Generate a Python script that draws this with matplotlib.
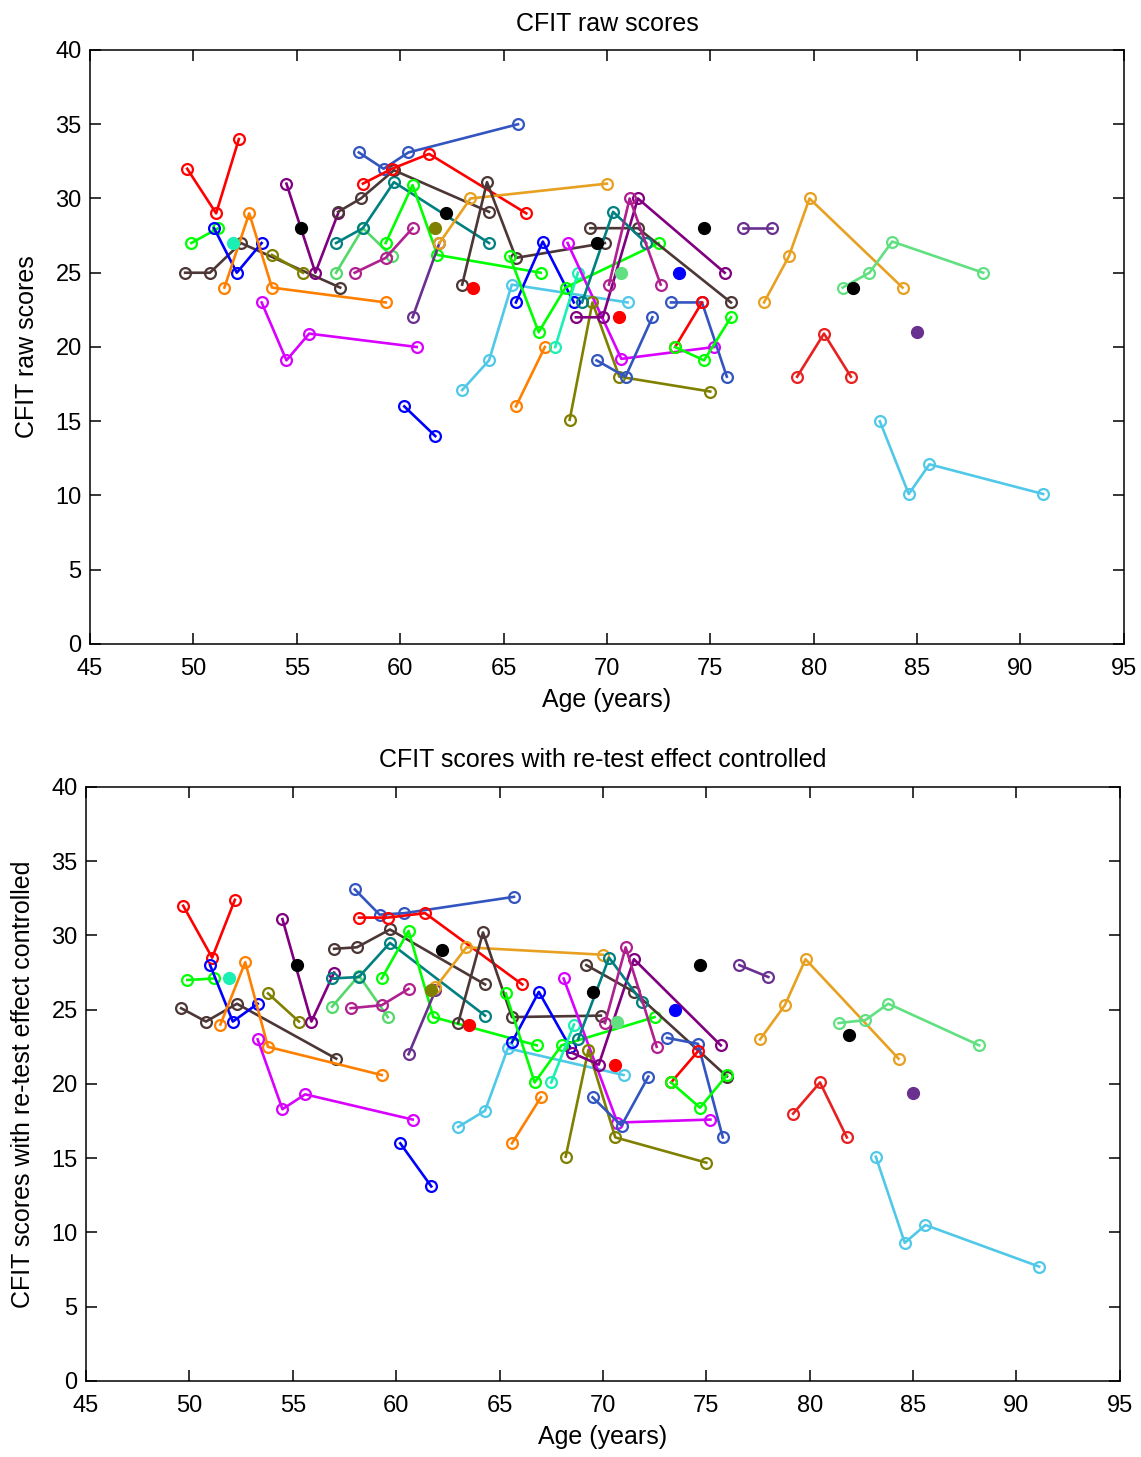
import matplotlib
matplotlib.use("Agg")
import matplotlib.pyplot as plt

plt.rcParams['font.family'] = ['Liberation Sans', 'DejaVu Sans']

# one entry per subject: ages at each visit, raw score, score with re-test effect controlled
ages = [
    [49.7, 51.1, 52.2], [49.9, 51.2], [49.6, 50.8, 52.3, 57.1], [51.0, 52.1, 53.3],
    [51.9], [51.5, 52.7, 53.8, 59.3], [53.8, 55.3], [54.5, 55.9, 57.0], [55.2],
    [53.3, 54.5, 55.6, 60.8], [60.2, 61.7], [56.9, 58.2, 59.6], [56.9, 58.2, 59.7, 64.3],
    [57.8, 59.3, 60.6], [57.0, 58.1, 59.7, 64.3], [59.3, 60.6, 61.8, 66.8],
    [58.0, 59.2, 60.4, 65.7], [58.2, 59.6, 61.4, 66.1], [60.6, 61.9], [61.7],
    [61.9, 63.4, 70.0], [62.2], [63.5], [63.0, 64.2, 65.6, 69.9], [63.0, 64.3, 65.4, 71.0],
    [65.6, 66.9, 68.4], [65.6, 67.0], [65.3, 66.7, 68.0, 72.5], [67.5, 68.6],
    [68.1, 70.7, 75.2], [68.2, 69.3, 70.6, 75.0], [68.5, 69.8, 71.5, 75.7],
    [69.2, 71.5, 76.0], [69.5], [68.8, 70.3, 71.9], [70.1, 71.1, 72.6],
    [69.5, 70.9, 72.2], [70.6], [70.7], [73.5], [73.1, 74.6, 75.8], [73.3, 74.6],
    [73.3, 74.7, 76.0], [74.7], [76.6, 78.0], [77.6, 78.8, 79.8, 84.3],
    [81.4, 82.7, 83.8, 88.2], [79.2, 80.5, 81.8], [81.9], [85.0], [83.2, 84.6, 85.6, 91.1],
]
raw = [
    [32, 29, 34], [27, 28], [25, 25, 27, 24], [28, 25, 27],
    [27], [24, 29, 24, 23], [26.2, 25], [31, 25, 29], [28],
    [23, 19.1, 20.9, 20], [16, 14], [25, 28, 26.1], [27, 28, 31.1, 27],
    [25, 26, 28], [29.1, 30, 31.9, 29.1], [27, 30.9, 26.2, 25],
    [33.1, 32, 33.1, 35], [31, 32, 33, 29], [22, 27], [28],
    [27, 30, 31], [29], [24], [24.2, 31.1, 26, 27], [17.1, 19.1, 24.2, 23],
    [23, 27.1, 23], [16, 20], [26.1, 21, 24, 27], [20, 25],
    [27, 19.2, 20], [15.1, 23, 18, 17], [22, 22, 30, 25],
    [28, 28, 23], [27], [23, 29.1, 27], [24.2, 30, 24.2],
    [19.1, 18, 22], [22], [25], [25], [23, 23, 18], [20, 23],
    [20, 19.1, 22], [28], [28, 28], [23, 26.1, 30, 24],
    [24, 25, 27.1, 25], [18, 20.9, 18], [24], [21], [15, 10.1, 12.1, 10.1],
]
adj = [
    [32, 28.5, 32.4], [27, 27.1], [25.1, 24.2, 25.4, 21.7], [28, 24.2, 25.4],
    [27.1], [24, 28.2, 22.5, 20.6], [26.1, 24.2], [31.1, 24.2, 27.5], [28],
    [23, 18.3, 19.3, 17.6], [16, 13.1], [25.2, 27.3, 24.5], [27.1, 27.2, 29.5, 24.6],
    [25.1, 25.3, 26.4], [29.1, 29.2, 30.4, 26.7], [27.1, 30.3, 24.5, 22.6],
    [33.1, 31.4, 31.5, 32.6], [31.2, 31.2, 31.5, 26.7], [22, 26.3], [26.3],
    [26.5, 29.2, 28.7], [29], [24], [24.1, 30.2, 24.5, 24.6], [17.1, 18.2, 22.4, 20.6],
    [22.8, 26.2, 22.5], [16, 19.1], [26.1, 20.1, 22.6, 24.5], [20.1, 24],
    [27.1, 17.4, 17.6], [15.1, 22.3, 16.4, 14.7], [22.1, 21.3, 28.4, 22.6],
    [28, 26.2, 20.5], [26.2], [23, 28.5, 25.5], [24.1, 29.2, 22.5],
    [19.1, 17.2, 20.5], [21.3], [24.2], [25], [23.1, 22.7, 16.4], [20.1, 22.2],
    [20.1, 18.4, 20.6], [28], [28, 27.2], [23, 25.3, 28.4, 21.7],
    [24.1, 24.3, 25.4, 22.6], [18, 20.1, 16.4], [23.3], [19.4], [15.1, 9.3, 10.5, 7.7],
]

# line colour per subject
colors = [
    '#ff0000', '#00ff00', '#4d3636', '#0000ff',
    '#1af0b4', '#ff8000', '#808000', '#800080', '#000000',
    '#d800ff', '#0000ff', '#55d86a', '#008080',
    '#b0208f', '#4d3636', '#00ff00',
    '#3355c0', '#ff0000', '#6a3090', '#808000',
    '#e8a020', '#000000', '#ff0000', '#4d3636', '#50c8e8',
    '#0000ff', '#ff8000', '#00ff00', '#1af0b4',
    '#d800ff', '#808000', '#800080',
    '#4d3636', '#000000', '#008080', '#b0208f',
    '#3355c0', '#ff0000', '#60e080', '#0000ff', '#3355c0', '#ff0000',
    '#00ff00', '#000000', '#6a3090', '#e8a020',
    '#60e080', '#e82020', '#000000', '#6a3090', '#50c8e8',
]

fig = plt.figure(figsize=(11.41, 14.57), dpi=100)
ax1 = fig.add_axes([0.0789, 0.558, 0.906, 0.4077])
ax2 = fig.add_axes([0.0754, 0.0522, 0.906, 0.4077])


def draw(ax, scores, title, ylabel):
    for a, s, c in zip(ages, scores, colors):
        if len(a) == 1:
            ax.plot(a, s, 'o', color=c, markersize=8.5, zorder=3)
        else:
            ax.plot(a, s, '-o', color=c, lw=1.9, markersize=7.8,
                    markerfacecolor='none', markeredgewidth=1.6, zorder=2)
    ax.set_xlim(45, 95)
    ax.set_ylim(0, 40)
    ax.set_xticks(range(45, 96, 5))
    ax.set_yticks(range(0, 41, 5))
    for sp in ax.spines.values():
        sp.set_linewidth(1.1)
    ax.tick_params(direction='in', top=True, right=True, length=8, width=1.1,
                   labelsize=17)
    ax.tick_params(axis='x', pad=10)
    ax.tick_params(axis='y', pad=6)
    ax.set_xlabel('Age (years)', fontsize=18, labelpad=6)
    ax.set_ylabel(ylabel, fontsize=18, labelpad=12)
    ax.set_title(title, fontsize=18, pad=14)


draw(ax1, raw, 'CFIT raw scores', 'CFIT raw scores')
draw(ax2, adj, 'CFIT scores with re-test effect controlled',
     'CFIT scores with re-test effect controlled')

fig.savefig('out.png', dpi=100)
